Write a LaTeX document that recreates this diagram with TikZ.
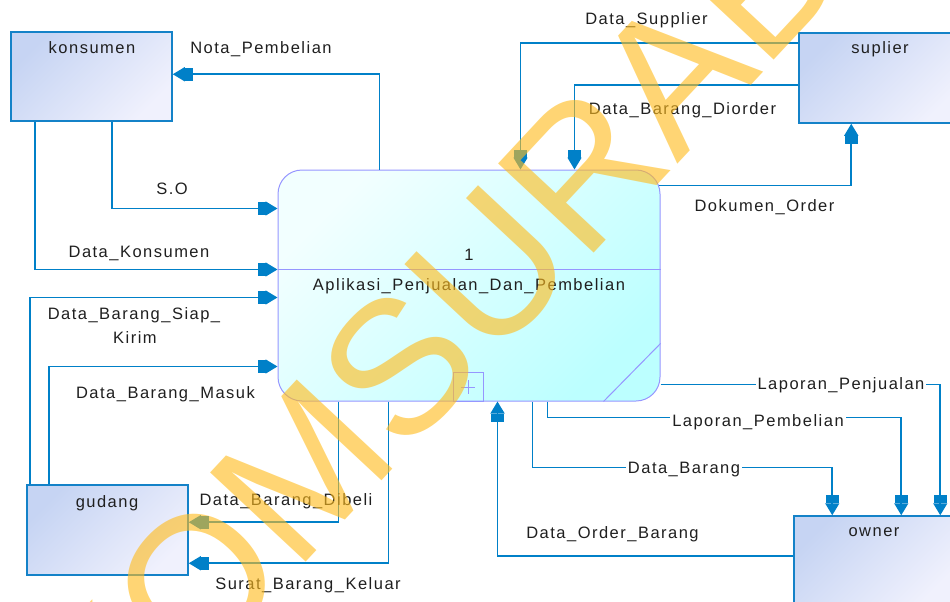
\documentclass[tikz,border=0pt]{standalone}
\usepackage{fontspec}
\setmainfont{Liberation Sans}
\newfontfamily\lblfont[LetterSpace=9]{Liberation Sans}
\newfontfamily\wmfont{Liberation Sans}
\usetikzlibrary{arrows.meta,calc}
\definecolor{flowc}{RGB}{0,128,200}
\definecolor{entline}{RGB}{20,130,200}
\definecolor{entdark}{RGB}{198,212,243}
\definecolor{entlight}{RGB}{240,241,253}
\definecolor{procline}{RGB}{150,150,255}
\definecolor{proclight}{RGB}{242,255,255}
\definecolor{procdark}{RGB}{188,255,255}
\definecolor{wmc}{RGB}{255,188,30}
\begin{document}
\begin{tikzpicture}[x=1pt,y=-1pt,
  lbl/.style={font=\lblfont\fontsize{16.5}{18}\selectfont, text=black!88, anchor=base, inner sep=0pt},
  inl/.style={lbl, fill=white, inner xsep=2pt, inner ysep=3pt},
  entity/.style={draw=entline, line width=1.5pt, top color=entdark, bottom color=entlight, shading angle=45},
  process/.style={draw=procline, line width=1pt, rounded corners=24pt, top color=proclight, bottom color=procdark, shading angle=45},
  flow/.style={draw=flowc, line width=1.6pt, -{Rectangle[length=8pt,width=13pt]Triangle[length=12pt,width=14pt]}},
  wm/.style={font=\wmfont\fontsize{190}{190}\selectfont, text=wmc, text opacity=0.62, inner sep=0pt}]
\useasboundingbox (0,0) rectangle (950,602);

% external entities
\node[entity, minimum width=161pt, minimum height=89pt] (konsumen) at (91.5,76.5) {};
\node[entity, minimum width=162pt, minimum height=90pt] (suplier) at (880,78) {};
\node[entity, minimum width=161pt, minimum height=90pt] (gudang) at (107.5,530) {};
\node[entity, minimum width=161pt, minimum height=90pt] (owner) at (874.5,561) {};
\node[lbl] (konsumen-t) at (92,53) {konsumen};
\node[lbl] (suplier-t) at (880,54) {suplier};
\node[lbl] (gudang-t) at (107,507) {gudang};
\node[lbl] (owner-t) at (874,536) {owner};

% process
\node[process, minimum width=382pt, minimum height=231pt] (proc) at (469,285.5) {};
\draw[procline, line width=1pt] ($(proc.north west)+(0,100)$) -- ($(proc.north east)+(0,100)$);
\node[lbl] (proc-n) at (469,260) {1};
\node[lbl] (proc-t) at (469,290) {Aplikasi\_Penjualan\_Dan\_Pembelian};
\node[draw=procline, line width=1pt, minimum width=30pt, minimum height=29pt, inner sep=0pt] (plusbox) at ($(proc.south)+(-1,-14.5)$) {};
\draw[procline, line width=1pt] ($(plusbox.center)+(-7,0)$) -- ($(plusbox.center)+(7,0)$)
  ($(plusbox.center)+(0,-7)$) -- ($(plusbox.center)+(0,7)$);
\draw[procline, line width=1pt] ($(proc.south east)+(-57,0)$) -- ($(proc.south east)+(0,-58)$);

% data flows
\draw[flow] ($(proc.north west)+(102,0)$) |- ($(konsumen.north east)+(0,43)$);
\draw[flow] ($(konsumen.south west)+(102,0)$) |- ($(proc.north west)+(0,39)$);
\draw[flow] ($(konsumen.south west)+(25,0)$) |- ($(proc.north west)+(0,100)$);
\draw[flow] ($(gudang.north west)+(4,0)$) |- ($(proc.north west)+(0,128)$);
\draw[flow] ($(gudang.north west)+(23,0)$) |- ($(proc.north west)+(0,197)$);
\draw[flow] ($(proc.south west)+(61,0)$) |- ($(gudang.north east)+(0,38)$);
\draw[flow] ($(proc.south west)+(111,0)$) |- ($(gudang.north east)+(0,79)$);
\draw[flow] ($(suplier.north west)+(0,11)$) -| ($(proc.north west)+(243,0)$);
\draw[flow] ($(suplier.north west)+(0,53)$) -| ($(proc.north west)+(297,0)$);
\draw[flow] ($(proc.north east)+(-2,16)$) -| ($(suplier.south west)+(53,0)$);
\draw[flow] ($(proc.north east)+(0,215)$) -| ($(owner.north west)+(147,0)$);
\draw[flow] ($(proc.south west)+(270,0)$) -- ++(0,16) -| ($(owner.north west)+(108,0)$);
\draw[flow] ($(proc.south west)+(255,0)$) -- ++(0,66) -| ($(owner.north west)+(39,0)$);
\draw[flow] ($(owner.north west)+(0,41)$) -| ($(proc.south west)+(220,0)$);

% flow labels
\node[lbl] (l-nota) at (261,53) {Nota\_Pembelian};
\node[lbl] (l-so) at (172,194) {S.O};
\node[lbl] (l-kons) at (139,257) {Data\_Konsumen};
\node[lbl] (l-siap) at (134,319) {Data\_Barang\_Siap\_};
\node[lbl] (l-kirim) at (135,343) {Kirim};
\node[lbl] (l-masuk) at (165.5,398) {Data\_Barang\_Masuk};
\node[lbl] (l-dibeli) at (286,505) {Data\_Barang\_Dibeli};
\node[lbl] (l-surat) at (308,589) {Surat\_Barang\_Keluar};
\node[lbl] (l-supp) at (646.5,25) {Data\_Supplier};
\node[lbl] (l-diorder) at (682.5,114) {Data\_Barang\_Diorder};
\node[lbl] (l-dok) at (764.5,211) {Dokumen\_Order};
\node[inl] (l-lpj) at (841,389) {Laporan\_Penjualan};
\node[inl] (l-lpb) at (758,426) {Laporan\_Pembelian};
\node[inl] (l-brg) at (684,473) {Data\_Barang};
\node[lbl] (l-order) at (612.5,538) {Data\_Order\_Barang};

% watermark
\begin{scope}
\clip (0,0) rectangle (950,602);
\node[wm, rotate=47, anchor=base west] (wm-b) at (403.5,457.7) {SURABAYA};
\node[wm, rotate=47, anchor=base east] (wm-a) at (wm-b.base west) {STIKOM~};
\end{scope}
\end{tikzpicture}
\end{document}
